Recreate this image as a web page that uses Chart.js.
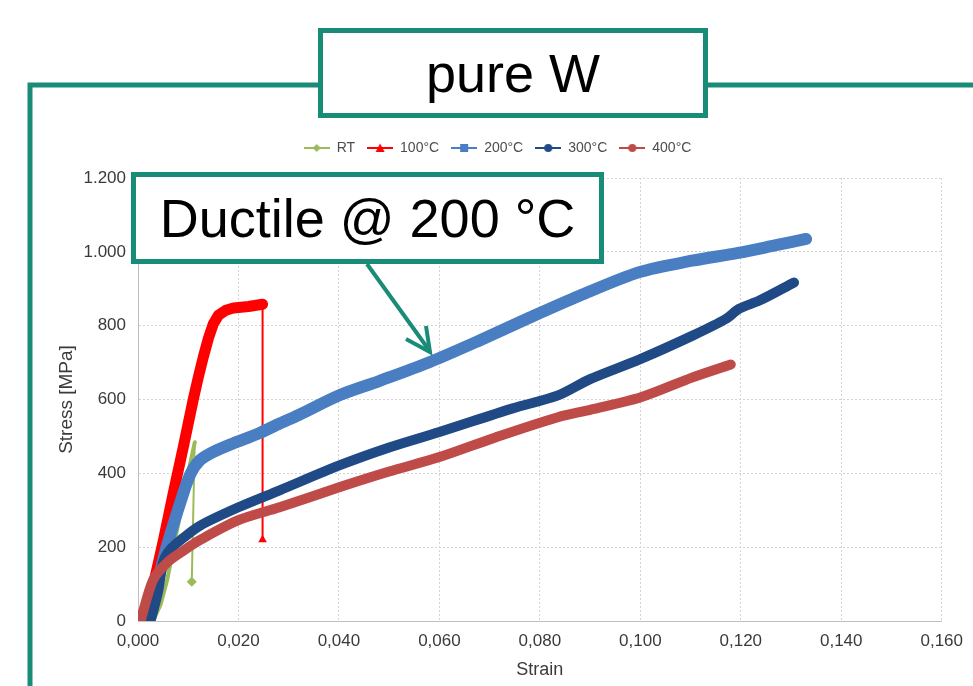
<!DOCTYPE html>
<html>
<head>
<meta charset="utf-8">
<script src="https://cdn.jsdelivr.net/npm/chart.js@4.4.1/dist/chart.umd.min.js"></script>
<style>
  html, body { margin:0; padding:0; background:#fff; }
  #wrap { position:relative; width:973px; height:686px; overflow:hidden; font-family:"Liberation Sans", Arial, sans-serif; }
  #box { position:absolute; left:47px; top:129px; width:926px; height:557px; }
  #over { position:absolute; left:0; top:0; pointer-events:none; }
  .tag { position:absolute; box-sizing:border-box; border:5px solid #198c78; background:#fff; color:#000;
         display:flex; align-items:center; justify-content:center; white-space:nowrap; }
</style>
</head>
<body>
<div id="wrap">
  <div id="box"><canvas id="grafico"></canvas></div>
  <svg id="over" width="973" height="686">
    <polyline points="30,686 30,85 318,85" fill="none" stroke="#198c78" stroke-width="5"/>
    <line x1="708" y1="85" x2="973" y2="85" stroke="#198c78" stroke-width="5"/>
    <line x1="367" y1="264" x2="429" y2="350" stroke="#198c78" stroke-width="4"/>
    <polyline points="406,339 430,352 426,326" fill="none" stroke="#198c78" stroke-width="4"/>
  </svg>
  <div class="tag" style="left:318px;top:28px;width:390px;height:90px;font-size:54px;">pure W</div>
  <div class="tag" style="left:131px;top:172px;width:473px;height:92px;font-size:54px;">Ductile @ 200 °C</div>
</div>
<script>
// datos (Strain / Stress MPa)
const seriesNames = ['RT', '100°C', '200°C', '300°C', '400°C'];

const strainRT = [0.0030, 0.0045, 0.0058, 0.0080, 0.0095, 0.0113, 0.0107];
const stressRT = [0, 45, 111, 262, 370, 484, 106];

const strain100 = [0.0005, 0.0030, 0.0050, 0.0070, 0.0090, 0.0110, 0.0120, 0.0130, 0.0140, 0.0150, 0.0160, 0.0175, 0.0190, 0.0220, 0.0248, 0.0248];
const stress100 = [0, 95, 215, 345, 470, 600, 660, 715, 765, 805, 828, 842, 848, 852, 858, 220];

const strain200 = [0.0010, 0.0030, 0.0057, 0.0090, 0.0105, 0.0123, 0.0150, 0.0189, 0.0240, 0.0282, 0.0320, 0.0402, 0.0480, 0.0580, 0.0680, 0.0780, 0.0879, 0.0998, 0.1103, 0.1195, 0.1270, 0.1330];
const stress200 = [0, 60, 200, 345, 400, 435, 458, 481, 508, 535, 558, 612, 650, 701, 760, 822, 881, 945, 976, 997, 1018, 1035];

const strain300 = [0.0025, 0.0040, 0.0050, 0.0065, 0.0090, 0.0123, 0.0200, 0.0282, 0.0402, 0.0500, 0.0600, 0.0746, 0.0836, 0.0900, 0.1001, 0.1104, 0.1170, 0.1197, 0.1237, 0.1306];
const stress300 = [0, 80, 160, 195, 225, 258, 308, 354, 422, 470, 512, 576, 611, 655, 710, 773, 818, 846, 868, 917];

const strain400 = [0.0005, 0.0030, 0.0057, 0.0090, 0.0123, 0.0200, 0.0282, 0.0402, 0.0500, 0.0600, 0.0713, 0.0836, 0.0900, 0.1001, 0.1104, 0.1180];
const stress400 = [0, 111, 157, 190, 219, 273, 308, 363, 405, 444, 498, 552, 572, 606, 660, 695];

const xMin = 0, xMax = 0.16, xStep = 0.02;
const yMin = 0, yMax = 1200, yStep = 200;

const colores = ['#9bbb59', '#ff0000', '#4a7ec2', '#1f4a86', '#be4b48'];
const marcas = ['rectRot', 'triangle', 'rect', 'circle', 'circle'];

function puntos(xs, ys) {
  return xs.map((x, i) => ({ x: x, y: ys[i] }));
}

// icono de leyenda: linea con marca en el medio (estilo Excel)
function iconoLeyenda(color, estilo) {
  const c = document.createElement('canvas');
  c.width = 26; c.height = 12;
  const g = c.getContext('2d');
  g.strokeStyle = color; g.fillStyle = color; g.lineWidth = 2;
  g.beginPath(); g.moveTo(0, 6); g.lineTo(26, 6); g.stroke();
  g.beginPath();
  if (estilo === 'rectRot') { g.moveTo(13, 2); g.lineTo(17, 6); g.lineTo(13, 10); g.lineTo(9, 6); }
  else if (estilo === 'triangle') { g.moveTo(13, 1.5); g.lineTo(17.5, 10); g.lineTo(8.5, 10); }
  else if (estilo === 'rect') { g.rect(9, 2, 8, 8); }
  else { g.arc(13, 6, 4, 0, Math.PI * 2); }
  g.closePath(); g.fill();
  return c;
}
const iconos = colores.map((c, i) => iconoLeyenda(c, marcas[i]));

function serie(i, xs, ys, ancho, anchoCaida) {
  const ultimo = xs.length - 1;
  return {
    label: seriesNames[i],
    data: puntos(xs, ys),
    showLine: true,
    borderColor: colores[i],
    backgroundColor: colores[i],
    borderWidth: ancho,
    borderJoinStyle: 'round',
    borderCapStyle: 'round',
    tension: anchoCaida ? 0 : 0.3,
    order: 4 - i,
    pointStyle: marcas[i],
    pointRadius: ctx => (anchoCaida && ctx.dataIndex === ultimo) ? 5 : 0,
    pointBorderWidth: 0,
    segment: anchoCaida ? { borderWidth: ctx => ctx.p1DataIndex === ultimo ? anchoCaida : ancho } : undefined
  };
}

// espacio extra debajo de la leyenda
const huecoLeyenda = {
  id: 'huecoLeyenda',
  beforeInit(chart) {
    const fit = chart.legend.fit;
    chart.legend.fit = function () { fit.bind(chart.legend)(); this.height += 13; };
  }
};

Chart.defaults.font.family = '"Liberation Sans", Arial, sans-serif';
Chart.defaults.color = '#3a3a3a';

var ctx = document.getElementById('grafico').getContext('2d');
var mychart = new Chart(ctx, {
  type: 'scatter',
  plugins: [huecoLeyenda],
  data: {
    datasets: [
      serie(0, strainRT, stressRT, 4, 2),
      serie(1, strain100, stress100, 11, 2),
      serie(2, strain200, stress200, 12),
      serie(3, strain300, stress300, 10),
      serie(4, strain400, stress400, 10)
    ]
  },
  options: {
    responsive: true,
    maintainAspectRatio: false,
    animation: false,
    events: [],
    layout: { padding: { left: 5, right: 30, top: 0, bottom: 0 } },
    plugins: {
      tooltip: { enabled: false },
      legend: {
        position: 'top',
        labels: {
          usePointStyle: true,
          pointStyleWidth: 26,
          padding: 12,
          color: '#4d4d4d',
          font: { size: 14 },
          sort: (a, b) => a.datasetIndex - b.datasetIndex,
          generateLabels: function (chart) {
            const items = Chart.defaults.plugins.legend.labels.generateLabels(chart);
            items.forEach(it => { it.pointStyle = iconos[it.datasetIndex]; });
            return items;
          }
        }
      }
    },
    scales: {
      x: {
        type: 'linear',
        min: xMin, max: xMax,
        afterFit: s => { s.height = 65; },
        ticks: {
          stepSize: xStep,
          padding: 10,
          font: { size: 17 },
          callback: v => v.toFixed(3).replace('.', ',')
        },
        grid: { color: '#d4d4d4', drawTicks: false },
        border: { color: '#bfbfbf', dash: [2, 2] },
        title: { display: true, text: 'Strain', font: { size: 18 }, padding: { top: 0, bottom: 5 } }
      },
      y: {
        min: yMin, max: yMax,
        afterFit: s => { s.width = 86; },
        ticks: {
          stepSize: yStep,
          padding: 12,
          font: { size: 17 },
          callback: v => v >= 1000 ? Math.floor(v / 1000) + '.' + String(v % 1000).padStart(3, '0') : String(v)
        },
        grid: { color: '#d4d4d4', drawTicks: false },
        border: { color: '#bfbfbf', dash: [2, 2] },
        title: { display: true, text: 'Stress [MPa]', font: { size: 19 }, padding: 3 }
      }
    }
  }
});
</script>
</body>
</html>
